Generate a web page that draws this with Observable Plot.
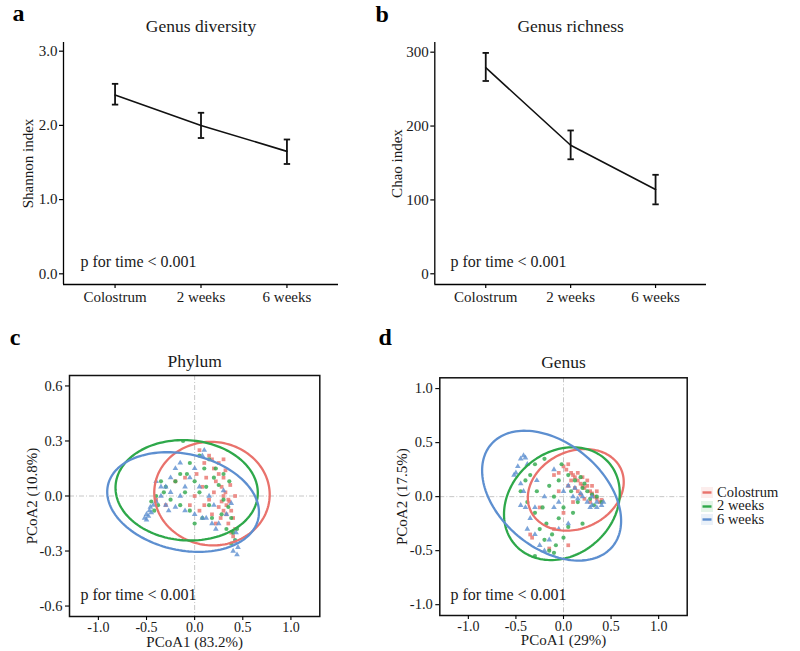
<!DOCTYPE html>
<html><head><meta charset="utf-8">
<script src="https://cdn.jsdelivr.net/npm/d3@7"></script>
<script src="https://cdn.jsdelivr.net/npm/@observablehq/plot@0.6"></script>
<style>
html,body{margin:0;padding:0;background:#fff;}
#root{position:relative;width:800px;height:651px;overflow:hidden;font-family:"Liberation Serif","Times New Roman",serif;background:#fff;}
.panel{position:absolute;}
#legend{position:absolute;left:701px;top:486px;font-size:14.5px;line-height:13.4px;color:#1a1a1a;}
.row{display:flex;align-items:center;height:13.4px;white-space:nowrap;}
.row svg{margin-right:4px;display:block;}
</style></head><body><div id="root"></div>
<script>
// ---------- data ----------
const timepoints = ["Colostrum", "2 weeks", "6 weeks"];
const shannonMean = [2.41, 2.00, 1.65];
const shannonLow  = [2.28, 1.83, 1.48];
const shannonHigh = [2.56, 2.17, 1.81];
const chaoMean = [279, 174, 114];
const chaoLow  = [261, 155, 94];
const chaoHigh = [299, 194, 134];

const groups = ["Colostrum", "2 weeks", "6 weeks"];
const groupColors = ["#E9726C", "#2EA84A", "#5D8FD0"];
const groupSymbols = ["square", "circle", "triangle"];

const phylumColostrum = [[0.15,0.22],[0.18,0.2],[0.1,0.18],[0.05,0.25],[0.2,0.15],[0.25,0.12],[0.3,0.1],[0.22,0.08],[0.28,0.05],[0.32,0.02],[0.3,0.0],[0.35,-0.02],[0.28,-0.03],[0.33,-0.05],[0.38,-0.08],[0.3,-0.08],[0.25,-0.06],[0.4,-0.12],[0.35,-0.15],[0.42,-0.18],[0.38,-0.2],[0.4,-0.22],[0.12,0.1],[0.08,0.05],[0.0,0.0],[-0.05,-0.05],[-0.1,0.1],[0.05,-0.08],[0.15,-0.02],[0.2,0.02],[0.18,-0.1],[-0.3,-0.05],[-0.4,-0.02],[-0.2,0.08],[0.25,0.18],[0.32,0.14],[0.37,0.06],[0.42,0.0],[0.27,-0.12],[0.33,-0.1],[0.1,-0.05],[0.02,0.12],[0.22,-0.15],[0.3,0.2],[0.36,-0.03]];
const phylumWeek2 = [[-0.12,0.3],[0.05,0.22],[0.1,0.15],[-0.05,0.18],[-0.15,0.12],[-0.2,0.08],[-0.3,0.05],[-0.35,0.08],[-0.4,0.0],[-0.45,-0.03],[-0.38,-0.05],[-0.25,-0.02],[-0.1,0.02],[0.0,0.08],[0.05,0.02],[0.12,0.05],[0.2,0.1],[0.25,0.06],[0.3,-0.02],[0.35,-0.06],[0.28,-0.1],[0.38,-0.12],[0.33,-0.18],[0.4,-0.2],[0.42,-0.24],[0.38,-0.26],[0.44,-0.18],[0.15,-0.05],[0.08,-0.12],[-0.05,-0.08],[-0.15,-0.05],[-0.32,0.02],[0.22,0.15],[0.15,0.2],[0.3,0.12],[-0.08,0.12],[0.0,-0.15],[0.18,-0.12],[-0.42,-0.08],[0.36,0.08]];
const phylumWeek6 = [[-0.52,-0.12],[-0.5,-0.1],[-0.48,-0.11],[-0.47,-0.08],[-0.45,-0.09],[-0.46,-0.06],[-0.43,-0.05],[-0.5,-0.13],[-0.4,-0.03],[-0.35,0.0],[-0.3,0.05],[-0.3,-0.05],[-0.25,0.1],[-0.2,0.15],[-0.15,0.18],[-0.1,0.05],[-0.2,-0.06],[-0.1,-0.08],[0.0,-0.1],[0.08,-0.12],[0.12,-0.12],[0.18,-0.15],[0.22,-0.18],[0.25,-0.15],[0.05,0.05],[0.0,0.15],[0.1,0.25],[0.08,0.22],[-0.05,0.1],[0.3,0.03],[0.38,-0.04],[0.42,-0.25],[0.45,-0.28],[0.44,-0.32],[0.4,-0.3],[0.43,-0.2],[-0.35,0.05],[-0.4,0.08],[-0.27,-0.08],[0.15,0.0],[0.2,-0.05],[-0.15,0.0],[0.33,-0.1],[-0.25,0.02]];

const genusColostrum = [[0.0,0.28],[0.03,0.25],[0.05,0.3],[0.08,0.22],[0.1,0.2],[0.12,0.18],[0.15,0.15],[0.18,0.12],[0.2,0.1],[0.22,0.08],[0.25,0.1],[0.28,0.05],[0.3,0.03],[0.33,0.0],[0.35,-0.02],[0.38,-0.05],[0.4,-0.03],[0.25,0.15],[0.2,0.18],[0.15,0.22],[0.3,0.1],[0.12,0.08],[0.18,0.02],[0.22,-0.02],[0.05,0.1],[-0.05,0.22],[-0.1,0.2],[0.28,-0.05],[0.15,0.05],[-0.35,-0.35],[-0.33,-0.38],[-0.15,-0.48],[-0.1,-0.3],[-0.25,-0.1],[0.0,-0.15],[0.05,-0.45],[-0.05,0.05],[0.1,-0.05],[0.35,0.05],[0.08,0.15]];
const genusWeek2 = [[-0.2,0.35],[-0.3,0.3],[-0.4,0.15],[-0.45,0.05],[-0.38,-0.05],[-0.3,-0.15],[-0.25,-0.3],[-0.2,-0.4],[-0.15,-0.5],[-0.1,-0.52],[-0.3,-0.55],[-0.18,-0.25],[-0.05,-0.2],[0.0,-0.1],[-0.1,0.0],[-0.15,0.1],[-0.05,0.15],[0.05,0.2],[0.12,0.15],[0.2,0.08],[0.25,0.05],[0.3,0.02],[0.35,0.0],[0.4,-0.05],[0.15,-0.05],[0.1,-0.15],[0.2,-0.25],[0.0,-0.38],[-0.08,-0.45],[-0.22,-0.1],[-0.35,0.2],[0.08,0.05],[0.22,0.12],[0.28,-0.02],[0.32,-0.08],[-0.12,-0.35],[0.05,-0.28],[-0.28,0.05],[0.18,0.18],[-0.02,0.3]];
const genusWeek6 = [[-0.45,0.35],[-0.42,0.38],[-0.4,0.36],[-0.48,0.28],[-0.5,0.22],[-0.52,0.2],[-0.38,0.3],[-0.45,0.12],[-0.42,0.05],[-0.4,-0.1],[-0.35,-0.2],[-0.38,-0.3],[-0.3,-0.35],[-0.25,-0.45],[-0.2,-0.5],[-0.15,-0.4],[-0.05,-0.3],[0.05,-0.25],[-0.1,-0.1],[-0.2,0.0],[0.0,0.05],[0.05,0.1],[0.1,0.0],[0.15,-0.02],[0.2,0.0],[0.25,-0.05],[0.3,-0.08],[0.35,-0.05],[0.4,-0.08],[0.42,-0.05],[0.28,-0.1],[0.18,0.03],[-0.28,0.15],[-0.1,0.25],[-0.3,-0.1],[0.12,0.08],[-0.05,-0.05],[0.35,-0.1],[-0.45,-0.08],[0.3,0.0]];

// ellipse parameters: center, semi-axes (data units), tilt (degrees)
const phylumEllipseCx = [0.18, -0.083, -0.12];
const phylumEllipseCy = [0.013, 0.031, -0.033];
const phylumEllipseRx = [0.60, 0.74, 0.80];
const phylumEllipseRy = [0.282, 0.273, 0.262];
const phylumEllipseAngle = [-5, -4, -12.7];
const genusEllipseCx = [0.129, -0.017, -0.125];
const genusEllipseCy = [0.063, -0.065, 0.009];
const genusEllipseRx = [0.523, 0.655, 0.834];
const genusEllipseRy = [0.357, 0.476, 0.485];
const genusEllipseAngle = [25, 41, -40];

const pcoaTicks = {phylumY: [-0.6, -0.3, 0, 0.3, 0.6], genusY: [-1, -0.5, 0, 0.5, 1], x: [-1, -0.5, 0, 0.5, 1]};
const pText = "p for time < 0.001";

// ---------- drawing ----------
const FONT = '"Liberation Serif","Times New Roman",serif';
const root = document.getElementById("root");
function place(el, left, top) {
  const w = document.createElement("div");
  w.className = "panel"; w.style.left = left + "px"; w.style.top = top + "px";
  w.appendChild(el); root.appendChild(w);
}
const capSymbol = {draw(ctx, size) { const r = Math.sqrt(size / Math.PI); ctx.moveTo(-r, 0); ctx.lineTo(r, 0); }};

function label(txt, opts) {
  return Plot.text([txt], {text: d => d, fill: "#1a1a1a", textAnchor: "middle", lineAnchor: "middle", ...opts});
}

function trendPanel(o) {
  const rows = timepoints.map((t, i) => ({i, t, mean: o.mean[i], lo: o.lo[i], hi: o.hi[i]}));
  const xd = [-0.6, 2.6];
  return Plot.plot({
    width: o.width, height: o.height,
    marginLeft: o.ml, marginRight: o.mr, marginTop: o.mt, marginBottom: o.mb,
    style: {fontFamily: FONT, fontSize: "15px", color: "#1a1a1a", background: "transparent", overflow: "visible"},
    x: {domain: xd, label: null},
    y: {domain: o.yd, label: null},
    marks: [
      Plot.axisX({ticks: [0, 1, 2], tickFormat: i => timepoints[i], tickSize: 4, tickPadding: 3, stroke: "#000", strokeWidth: 1.2, fontSize: 15, label: null}),
      Plot.axisY({ticks: o.yticks, tickFormat: o.yfmt, tickSize: 4, tickPadding: 2, stroke: "#000", strokeWidth: 1.2, fontSize: 15, label: null}),
      Plot.ruleX([xd[0]], {stroke: "#000", strokeWidth: 1.3}),
      Plot.ruleY([o.yd[0]], {stroke: "#000", strokeWidth: 1.3}),
      Plot.line(rows, {x: "i", y: "mean", stroke: "#111", strokeWidth: 1.6}),
      Plot.ruleX(rows, {x: "i", y1: "lo", y2: "hi", stroke: "#111", strokeWidth: 1.8}),
      Plot.dot(rows, {x: "i", y: "lo", symbol: capSymbol, r: 3.2, stroke: "#111", fill: "none", strokeWidth: 1.8}),
      Plot.dot(rows, {x: "i", y: "hi", symbol: capSymbol, r: 3.2, stroke: "#111", fill: "none", strokeWidth: 1.8}),
      label(o.title, {frameAnchor: "top", dy: o.titleDy, fontSize: 17.5}),
      label(o.ylabel, {frameAnchor: "left", dx: o.ylabDx, rotate: -90, fontSize: 15}),
      label(pText, {frameAnchor: "bottom-left", dx: o.pDx, dy: o.pDy, textAnchor: "start", fontSize: 16}),
      label(o.letter, {frameAnchor: "top-left", dx: o.letDx, dy: o.letDy, textAnchor: "start", fontSize: 24, fontWeight: "bold", fill: "#000"})
    ]
  });
}

function pcoaPanel(o) {
  const pts = [];
  groups.forEach((g, k) => o.points[k].forEach(([x, y]) => pts.push({g, x, y})));
  const iw = o.width - o.ml - o.mr, ih = o.height - o.mt - o.mb;
  const sx = iw / (o.xd[1] - o.xd[0]), sy = ih / (o.yd[1] - o.yd[0]);
  const ell = [];
  groups.forEach((g, k) => {
    const th = o.eAngle[k] * Math.PI / 180;
    for (let j = 0; j <= 144; j++) {
      const t = 2 * Math.PI * j / 144;
      const px = o.eRx[k] * sx * Math.cos(t), py = o.eRy[k] * sy * Math.sin(t);
      const qx = px * Math.cos(th) - py * Math.sin(th), qy = px * Math.sin(th) + py * Math.cos(th);
      ell.push({g, x: o.eCx[k] + qx / sx, y: o.eCy[k] + qy / sy});
    }
  });
  const fmt = d => d.toFixed(1);
  return Plot.plot({
    width: o.width, height: o.height,
    marginLeft: o.ml, marginRight: o.mr, marginTop: o.mt, marginBottom: o.mb,
    style: {fontFamily: FONT, fontSize: "15px", color: "#1a1a1a", background: "transparent", overflow: "visible"},
    x: {domain: o.xd, label: null},
    y: {domain: o.yd, label: null},
    color: {domain: groups, range: groupColors},
    symbol: {domain: groups, range: groupSymbols},
    marks: [
      Plot.ruleX([0], {stroke: "#c6c6c6", strokeWidth: 1, strokeDasharray: "5,2,1,2"}),
      Plot.ruleY([0], {stroke: "#c6c6c6", strokeWidth: 1, strokeDasharray: "5,2,1,2"}),
      Plot.dot(pts, {x: "x", y: "y", fill: "g", symbol: "g", r: 2.1, fillOpacity: 0.8}),
      Plot.line(ell, {x: "x", y: "y", z: "g", stroke: "g", strokeWidth: 2.3}),
      Plot.frame({stroke: "#111", strokeWidth: 1.5}),
      Plot.axisX({ticks: pcoaTicks.x, tickFormat: fmt, tickSize: 4, tickPadding: 1.5, stroke: "#000", strokeWidth: 1.1, fontSize: 14, label: null}),
      Plot.axisY({ticks: o.yticks, tickFormat: fmt, tickSize: 4, tickPadding: 3, stroke: "#000", strokeWidth: 1.1, fontSize: 14.5, label: null}),
      label(o.title, {frameAnchor: "top", dy: o.titleDy, fontSize: 17.5}),
      label(o.xlabel, {frameAnchor: "bottom", dy: o.xlabDy, fontSize: 15}),
      label(o.ylabel, {frameAnchor: "left", dx: o.ylabDx, rotate: -90, fontSize: 15}),
      label(pText, {frameAnchor: "bottom-left", dx: o.pDx, dy: o.pDy, textAnchor: "start", fontSize: 16}),
      label(o.letter, {frameAnchor: "top-left", dx: o.letDx, dy: o.letDy, textAnchor: "start", fontSize: 24, fontWeight: "bold", fill: "#000"})
    ]
  });
}

place(trendPanel({width: 370, height: 310, ml: 63, mr: 32, mt: 42, mb: 26,
  yd: [-0.144, 3.117], yticks: [0, 1, 2, 3], yfmt: d => d.toFixed(1),
  mean: shannonMean, lo: shannonLow, hi: shannonHigh,
  title: "Genus diversity", ylabel: "Shannon index", letter: "a",
  titleDy: -15.9, ylabDx: -35, pDx: 17, pDy: -22.4, letDx: -51, letDy: -28.7}), 0, 0);

place(trendPanel({width: 430, height: 310, ml: 64.3, mr: 94, mt: 42, mb: 26,
  yd: [-14.5, 313.1], yticks: [0, 100, 200, 300], yfmt: d => String(d),
  mean: chaoMean, lo: chaoLow, hi: chaoHigh,
  title: "Genus richness", ylabel: "Chao index", letter: "b",
  titleDy: -15.9, ylabDx: -37.6, pDx: 15.7, pDy: -22.4, letDx: -59.3, letDy: -28.2}), 370, 0);

place(pcoaPanel({width: 370, height: 321, ml: 69, mr: 50.7, mt: 45, mb: 35,
  xd: [-1.3, 1.3], yd: [-0.657, 0.657], yticks: pcoaTicks.phylumY,
  points: [phylumColostrum, phylumWeek2, phylumWeek6],
  eCx: phylumEllipseCx, eCy: phylumEllipseCy, eRx: phylumEllipseRx, eRy: phylumEllipseRy, eAngle: phylumEllipseAngle,
  title: "Phylum", xlabel: "PCoA1 (83.2%)", ylabel: "PCoA2 (10.8%)", letter: "c",
  titleDy: -13.9, xlabDy: 25.5, ylabDx: -37.3, pDx: 11, pDy: -22.1, letDx: -59.7, letDy: -38.2}), 0, 330);

place(pcoaPanel({width: 430, height: 321, ml: 69.3, mr: 113.3, mt: 47.3, mb: 36,
  xd: [-1.3, 1.3], yd: [-1.1, 1.1], yticks: pcoaTicks.genusY,
  points: [genusColostrum, genusWeek2, genusWeek6],
  eCx: genusEllipseCx, eCy: genusEllipseCy, eRx: genusEllipseRx, eRy: genusEllipseRy, eAngle: genusEllipseAngle,
  title: "Genus", xlabel: "PCoA1 (29%)", ylabel: "PCoA2 (17.5%)", letter: "d",
  titleDy: -15.9, xlabDy: 25, ylabDx: -37.6, pDx: 10.7, pDy: -21.1, letDx: -61.3, letDy: -40.5}), 370, 330);

// legend
const leg = document.createElement("div");
leg.id = "legend";
groups.forEach((g, k) => {
  const row = document.createElement("div");
  row.className = "row";
  row.innerHTML = `<svg width="12" height="11"><rect width="12" height="11" fill="${groupColors[k]}" fill-opacity="0.13"/><line x1="1.5" x2="10.5" y1="5.5" y2="5.5" stroke="${groupColors[k]}" stroke-width="2.4"/></svg><span>${g}</span>`;
  leg.appendChild(row);
});
root.appendChild(leg);
</script></body></html>
